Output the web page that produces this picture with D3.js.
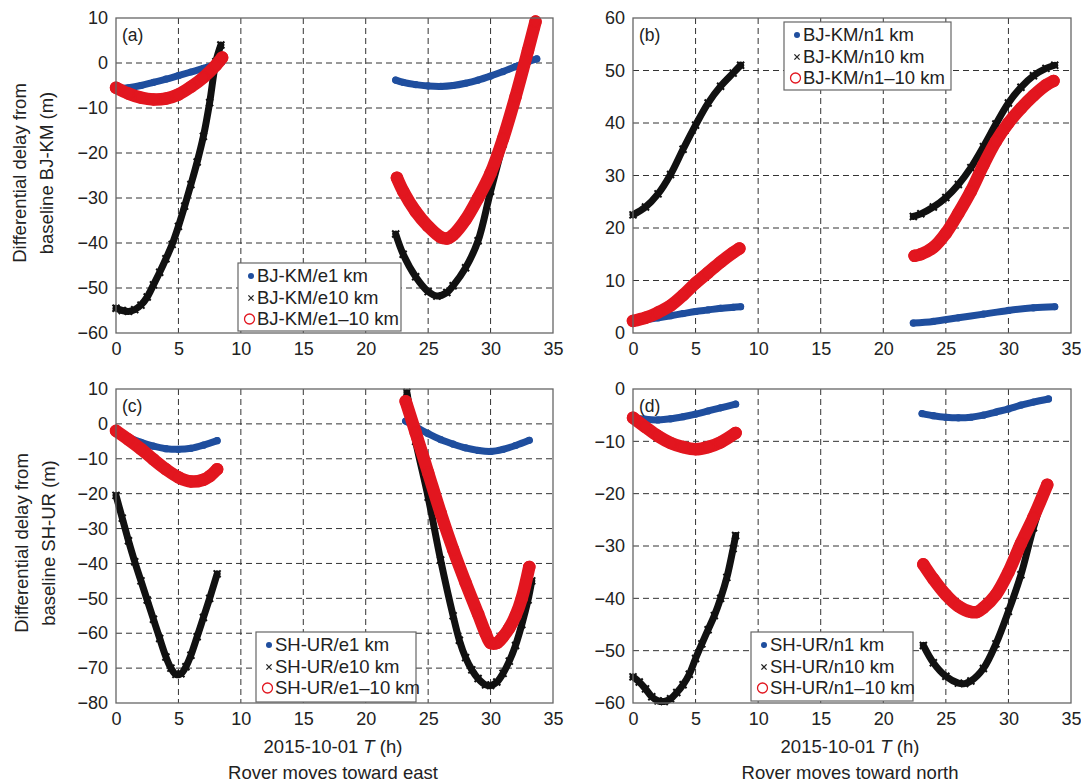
<!DOCTYPE html>
<html><head><meta charset="utf-8">
<script src="https://cdn.jsdelivr.net/npm/d3@7"></script>
<style>
body{margin:0;background:#fff}
svg{display:block}
text{font-family:"Liberation Sans",Arial,Helvetica,sans-serif;fill:#222}
</style>
</head><body>
<svg id="chart" width="1081" height="782"></svg>
<script>
// ---------- tick labels ----------
const xTicks = [0, 5, 10, 15, 20, 25, 30, 35];
const yTicksA = [10, 0, -10, -20, -30, -40, -50, -60];
const yTicksB = [60, 50, 40, 30, 20, 10, 0];
const yTicksC = [10, 0, -10, -20, -30, -40, -50, -60, -70, -80];
const yTicksD = [0, -10, -20, -30, -40, -50, -60];

// ---------- panel (a): BJ-KM, rover east ----------
const a_e1_1 = [[0,-5.8],[1,-5.5],[2,-5],[3,-4.3],[4,-3.6],[5,-2.8],[6,-2],[7,-1.2],[8,-0.3],[8.5,0.3]];
const a_e10_1 = [[0,-54.5],[0.5,-55],[1,-55.2],[1.5,-54.8],[2,-53.8],[2.5,-52],[3,-49.3],[3.5,-46.5],[4,-43.5],[4.5,-40.3],[5,-36.3],[5.5,-31.8],[6,-27],[6.5,-22],[7,-16.3],[7.5,-8.8],[8,0.3],[8.4,4]];
const a_e110_1 = [[0,-5.5],[1,-6.8],[2,-7.7],[3,-8.1],[4,-7.9],[5,-7],[6,-5.3],[7,-3.2],[8,-0.5],[8.5,1.2]];
const a_e1_2 = [[22.4,-3.8],[23,-4.3],[24,-4.8],[25,-5.1],[26,-5.2],[27,-5],[28,-4.5],[29,-3.8],[30,-2.9],[31,-1.9],[32,-0.8],[33,0.3],[33.7,0.9]];
const a_e10_2 = [[22.4,-38],[23,-42.5],[24,-47.5],[25,-50.8],[25.7,-51.8],[26.5,-51],[27,-49.5],[28,-45.5],[29,-39.5],[30,-28.5],[31,-18],[32,-8],[33,2],[33.6,8]];
const a_e110_2 = [[22.5,-25.5],[23,-28.5],[24,-33],[25,-36.3],[26,-38.7],[26.5,-39],[27,-38.2],[28,-34.8],[29,-30],[30,-24.5],[31,-16.8],[32,-7.5],[33,2.8],[33.6,9.2]];

// ---------- panel (b): BJ-KM, rover north ----------
const b_n1_1 = [[0,2.1],[1,2.5],[2,2.9],[3,3.3],[4,3.7],[5,4.1],[6,4.4],[7,4.7],[8,4.9],[8.6,5]];
const b_n10_1 = [[0,22.5],[1,24],[2,26.5],[3,30.2],[4,35],[5,39.6],[6,43.8],[7,47],[8,49.5],[8.6,51]];
const b_n110_1 = [[0,2.3],[1,2.9],[2,3.9],[3,5.2],[4,7.2],[5,9.5],[6,11.5],[7,13.5],[8,15.3],[8.5,16.1]];
const b_n1_2 = [[22.4,1.9],[24,2.2],[26,2.9],[28,3.6],[30,4.3],[32,4.8],[33.7,5]];
const b_n10_2 = [[22.4,22.2],[23,22.7],[24,24],[25,25.8],[26,28.3],[27,31.5],[28,35.5],[29,39.8],[30,43.8],[31,46.8],[32,49],[33,50.4],[33.7,51]];
const b_n110_2 = [[22.5,14.7],[23,15],[24,16.3],[25,19],[26,22.8],[27,27],[28,32],[29,36.5],[30,40],[31,42.8],[32,45.2],[33,47.2],[33.6,48]];

// ---------- panel (c): SH-UR, rover east ----------
const c_e1_1 = [[0,-1.8],[1,-3.8],[2,-5.3],[3,-6.4],[4,-7.1],[5,-7.3],[6,-7],[7,-6.1],[8.1,-4.8]];
const c_e10_1 = [[0,-20.5],[0.5,-27],[1,-33.5],[1.5,-39.5],[2,-45],[2.5,-50.5],[3,-56],[3.5,-61.5],[4,-66.8],[4.4,-70],[4.8,-71.8],[5.2,-71.6],[5.6,-69.6],[6,-66.3],[6.5,-61],[7,-55.5],[7.5,-50],[8.1,-43]];
const c_e110_1 = [[0,-2],[1,-4.5],[2,-7.2],[3,-10.2],[4,-13],[5,-15.3],[6,-16.5],[7,-16],[7.5,-15],[8.1,-13]];
const c_e1_2 = [[23.2,0.8],[24,-0.8],[25,-2.8],[26,-4.5],[27,-5.8],[28,-6.9],[29,-7.6],[30,-7.9],[31,-7.3],[32,-6.2],[33.1,-4.7]];
const c_e10_2 = [[23.3,9],[24,-5],[25,-21],[26,-39],[27,-55],[27.5,-62],[28,-67],[28.5,-70.5],[29,-73],[29.6,-74.8],[30,-75],[30.5,-74],[31,-71.5],[31.5,-68],[32,-63.5],[32.5,-57.5],[33,-50.5],[33.3,-45]];
const c_e110_2 = [[23.2,6.5],[24,-2.5],[25,-14],[26,-25.5],[27,-36],[28,-45.5],[29,-54.5],[29.6,-60],[30,-62.8],[30.5,-62.8],[31,-61],[31.5,-58.5],[32,-55],[32.5,-50],[33.1,-41]];

// ---------- panel (d): SH-UR, rover north ----------
const d_n1_1 = [[0,-5.5],[1,-5.8],[2,-5.9],[3,-5.7],[4,-5.3],[5,-4.8],[6,-4.2],[7,-3.6],[8.2,-2.9]];
const d_n10_1 = [[0,-55],[0.5,-56],[1,-57.3],[1.5,-58.8],[2,-59.6],[2.5,-59.7],[3,-59.2],[3.5,-58],[4,-56.5],[4.5,-54.5],[5,-51.5],[5.5,-48.7],[6,-46],[6.5,-43.3],[7,-40],[7.5,-36],[8,-30.5],[8.2,-28]];
const d_n110_1 = [[0,-5.5],[1,-7.3],[2,-9],[3,-10.3],[4,-11.1],[5,-11.5],[6,-11.1],[7,-10.2],[8.2,-8.4]];
const d_n1_2 = [[23.1,-4.7],[24,-5.1],[25,-5.4],[26,-5.5],[27,-5.4],[28,-5],[29,-4.4],[30,-3.8],[31,-3.1],[32,-2.5],[33.2,-1.9]];
const d_n10_2 = [[23.2,-49],[24,-52.3],[25,-54.9],[26,-56.2],[26.5,-56.3],[27,-55.8],[28,-53.4],[29,-48.7],[30,-42.5],[31,-35.5],[32,-26.5],[33,-19]];
const d_n110_2 = [[23.2,-33.5],[24,-36.3],[25,-39.3],[26,-41.5],[27,-42.6],[27.5,-42.6],[28,-41.8],[29,-39.3],[30,-35],[31,-29.5],[32,-24.5],[33.1,-18.3]];

// ---------- legend labels ----------
const legendA = ["BJ-KM/e1 km", "BJ-KM/e10 km", "BJ-KM/e1\u201310 km"];
const legendB = ["BJ-KM/n1 km", "BJ-KM/n10 km", "BJ-KM/n1\u201310 km"];
const legendC = ["SH-UR/e1 km", "SH-UR/e10 km", "SH-UR/e1\u201310 km"];
const legendD = ["SH-UR/n1 km", "SH-UR/n10 km", "SH-UR/n1\u201310 km"];
const panelLabels = ["(a)", "(b)", "(c)", "(d)"];

// ---------- drawing ----------
const BLUE = "#1f4e9e", BLACK = "#111111", RED = "#e2161f";
const svg = d3.select("#chart");

const panels = [
  {lab: panelLabels[0], L:116, R:553, T:18, B:333, yDom:[-60,10], yT:yTicksA,
   s1:[a_e1_1,a_e1_2], s10:[a_e10_1,a_e10_2], s110:[a_e110_1,a_e110_2],
   leg:legendA, lg:{x:238,y:263,w:163,h:68}},
  {lab: panelLabels[1], L:633, R:1071, T:18, B:333, yDom:[0,60], yT:yTicksB,
   s1:[b_n1_1,b_n1_2], s10:[b_n10_1,b_n10_2], s110:[b_n110_1,b_n110_2],
   leg:legendB, lg:{x:784,y:22,w:167,h:68}},
  {lab: panelLabels[2], L:116, R:553, T:389, B:703, yDom:[-80,10], yT:yTicksC,
   s1:[c_e1_1,c_e1_2], s10:[c_e10_1,c_e10_2], s110:[c_e110_1,c_e110_2],
   leg:legendC, lg:{x:256,y:632,w:160,h:70}},
  {lab: panelLabels[3], L:633, R:1071, T:389, B:703, yDom:[-60,0], yT:yTicksD,
   s1:[d_n1_1,d_n1_2], s10:[d_n10_1,d_n10_2], s110:[d_n110_1,d_n110_2],
   leg:legendD, lg:{x:751,y:632,w:162,h:69}}
];

function xMark(g, cx, cy, s, color, w) {
  g.append("path")
    .attr("d", `M${cx-s},${cy-s}L${cx+s},${cy+s}M${cx-s},${cy+s}L${cx+s},${cy-s}`)
    .attr("stroke", color).attr("stroke-width", w).attr("fill", "none");
}

panels.forEach(p => {
  const x = d3.scaleLinear().domain([0, 35]).range([p.L, p.R]);
  const y = d3.scaleLinear().domain(p.yDom).range([p.B, p.T]);
  const g = svg.append("g");

  // grid
  g.append("g").selectAll("line").data(xTicks.filter(t => t > 0 && t < 35)).join("line")
    .attr("x1", d => x(d)).attr("x2", d => x(d)).attr("y1", p.T).attr("y2", p.B)
    .attr("stroke", "#333").attr("stroke-width", 1).attr("stroke-dasharray", "6,4");
  g.append("g").selectAll("line").data(p.yT.filter(t => t > p.yDom[0] && t < p.yDom[1])).join("line")
    .attr("y1", d => y(d)).attr("y2", d => y(d)).attr("x1", p.L).attr("x2", p.R)
    .attr("stroke", "#333").attr("stroke-width", 1).attr("stroke-dasharray", "6,4");

  // axes
  const ax = g.append("g").attr("transform", `translate(0,${p.B})`)
    .call(d3.axisBottom(x).tickValues(xTicks).tickSize(0).tickPadding(9));
  const ay = g.append("g").attr("transform", `translate(${p.L},0)`)
    .call(d3.axisLeft(y).tickValues(p.yT).tickSize(0).tickPadding(8));
  [ax, ay].forEach(a => {
    a.select(".domain").remove();
    a.selectAll("text").attr("font-size", 18).attr("fill", "#222")
      .style("font-family", '"Liberation Sans",Arial,sans-serif');
  });

  // data bands + markers
  const line = d3.line().x(d => x(d[0])).y(d => y(d[1])).curve(d3.curveCatmullRom.alpha(0.5));
  const dg = g.append("g");
  p.s1.forEach(seg => {
    dg.append("path").attr("d", line(seg)).attr("fill", "none")
      .attr("stroke", BLUE).attr("stroke-width", 7).attr("stroke-linecap", "round");
    seg.forEach(d => dg.append("circle").attr("cx", x(d[0])).attr("cy", y(d[1])).attr("r", 3.6).attr("fill", BLUE));
  });
  p.s10.forEach(seg => {
    dg.append("path").attr("d", line(seg)).attr("fill", "none")
      .attr("stroke", BLACK).attr("stroke-width", 7).attr("stroke-linecap", "round");
    seg.forEach(d => xMark(dg, x(d[0]), y(d[1]), 3.5, BLACK, 2));
  });
  p.s110.forEach(seg => {
    dg.append("path").attr("d", line(seg)).attr("fill", "none")
      .attr("stroke", RED).attr("stroke-width", 12.5).attr("stroke-linecap", "round");
    seg.forEach(d => dg.append("circle").attr("cx", x(d[0])).attr("cy", y(d[1])).attr("r", 5.5)
      .attr("fill", "none").attr("stroke", RED).attr("stroke-width", 1.5));
  });

  // frame
  g.append("rect").attr("x", p.L).attr("y", p.T).attr("width", p.R - p.L).attr("height", p.B - p.T)
    .attr("fill", "none").attr("stroke", "#666").attr("stroke-width", 1.3);

  // panel label
  g.append("text").attr("x", p.L + 6).attr("y", p.T + 23).attr("font-size", 17.5).text(p.lab);

  // legend
  const lg = p.lg;
  const leg = g.append("g");
  leg.append("rect").attr("x", lg.x).attr("y", lg.y).attr("width", lg.w).attr("height", lg.h)
    .attr("fill", "#fff").attr("stroke", "#666").attr("stroke-width", 1.2);
  const rows = [lg.y + 13, lg.y + 35, lg.y + 56];
  leg.append("circle").attr("cx", lg.x + 13).attr("cy", rows[0]).attr("r", 3).attr("fill", BLUE);
  xMark(leg, lg.x + 13, rows[1], 2.6, "#222", 1.3);
  leg.append("circle").attr("cx", lg.x + 11.5).attr("cy", rows[2]).attr("r", 5).attr("fill", "none")
    .attr("stroke", RED).attr("stroke-width", 1.3);
  p.leg.forEach((t, i) => {
    leg.append("text").attr("x", lg.x + 19).attr("y", rows[i]).attr("dy", "0.35em")
      .attr("font-size", 18.5).text(t);
  });
});

// y-axis titles (left panels)
function yTitle(cx1, cx2, cy, l2) {
  svg.append("text").attr("transform", `translate(${cx1},${cy}) rotate(-90)`)
    .attr("text-anchor", "middle").attr("dy", "0.35em").attr("font-size", 18.5).text("Differential delay from");
  svg.append("text").attr("transform", `translate(${cx2},${cy}) rotate(-90)`)
    .attr("text-anchor", "middle").attr("dy", "0.35em").attr("font-size", 18.5).text(l2);
}
yTitle(20, 47, 173, "baseline BJ-KM (m)");
yTitle(22, 49, 543, "baseline SH-UR (m)");

// x-axis titles (bottom panels)
function xTitle(cx, l2) {
  const t = svg.append("text").attr("x", cx).attr("y", 747).attr("dy", "0.35em")
    .attr("text-anchor", "middle").attr("font-size", 18.5);
  t.append("tspan").text("2015-10-01 ");
  t.append("tspan").attr("font-style", "italic").text("T");
  t.append("tspan").text(" (h)");
  svg.append("text").attr("x", cx).attr("y", 773).attr("dy", "0.35em")
    .attr("text-anchor", "middle").attr("font-size", 18.5).text(l2);
}
xTitle(333, "Rover moves toward east");
xTitle(850, "Rover moves toward north");
</script>
</body></html>
